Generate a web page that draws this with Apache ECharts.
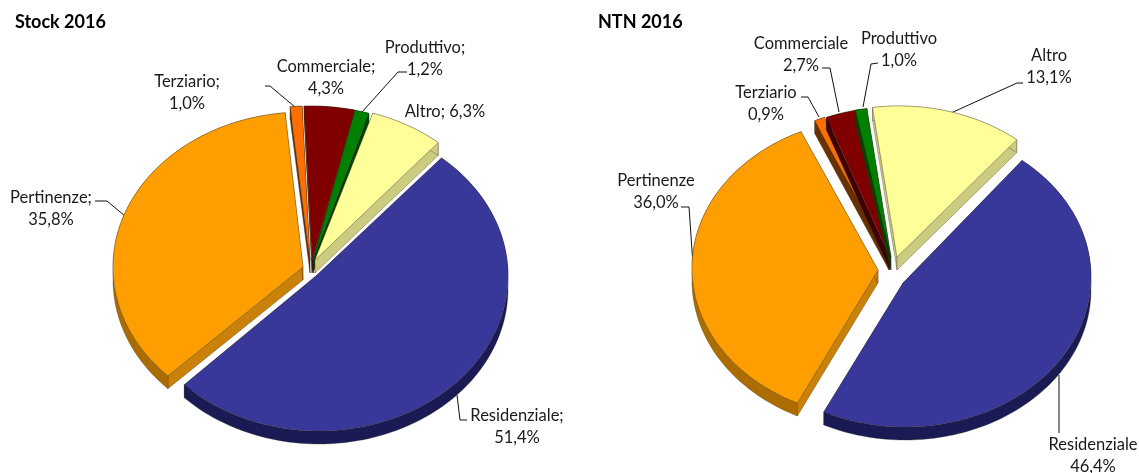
<!DOCTYPE html>
<html>
<head>
<meta charset="utf-8" />
<style>
  html, body { margin: 0; padding: 0; background: #fff; }
  #chart { width: 1139px; height: 473px; }
</style>
</head>
<body>
<div id="chart"></div>
<script src="https://cdn.jsdelivr.net/npm/echarts@6/dist/echarts.min.js"></script>
<script>
// dati
const categories = ["Residenziale", "Pertinenze", "Terziario", "Commerciale", "Produttivo", "Altro"];
const stockValues = [51.4, 35.8, 1.0, 4.3, 1.2, 6.3];
const ntnValues = [46.4, 36.0, 0.9, 2.7, 1.0, 13.1];

// colori: faccia, taglio, bordo esterno
const faceColors = ["#38389A", "#FF9E00", "#FF6F00", "#800000", "#008000", "#FFFF99"];
const cutColors = ["#1B1B5C", "#C98207", "#6B3000", "#3E0000", "#004400", "#CCCC80"];
const wallColors = ["#1A1A55", "#AD6C00", "#6B3000", "#3E0000", "#004400", "#CCCC80"];

const fontFamily = "Lato, 'Open Sans', sans-serif";
const depth = 13;
const step = 1.5;

// geometria di ogni fetta: a = vertice, c = centro ellisse
const stockLayout = {
  firstAngle: 40.4,
  slices: [
    { a: [316, 276], c: [319, 276], rx: 189, ry: 155 },
    { a: [303, 267], c: [304, 267], rx: 191, ry: 155 },
    { a: [310, 260], c: [309, 259], rx: 190, ry: 153 },
    { a: [312, 260], c: [311, 259], rx: 190, ry: 153 },
    { a: [313, 260], c: [311, 259], rx: 190, ry: 153 },
    { a: [315, 260], c: [315, 259], rx: 190, ry: 153 },
  ],
  labels: [
    { x: 517, y: 416, sep: ";", inline: false },
    { x: 51, y: 198, sep: ";", inline: false },
    { x: 187, y: 82, sep: ";", inline: false },
    { x: 326, y: 67, sep: ";", inline: false },
    { x: 425, y: 48, sep: ";", inline: false },
    { x: 445, y: 112, sep: ";", inline: true },
  ],
  leaders: [
    [[457, 395], [460, 420], [467, 420]],
    [[95, 201], [107, 201], [125, 216]],
    [[265, 86], [270, 86], [295, 107]],
    [[407, 72], [398, 72], [362, 112]],
  ],
};
const ntnLayout = {
  firstAngle: 39,
  slices: [
    { a: [903, 283], c: [905, 277], rx: 186, ry: 150 },
    { a: [878, 270], c: [879, 268], rx: 187, ry: 150 },
    { a: [889, 257], c: [892, 257], rx: 185, ry: 150 },
    { a: [890, 257], c: [894, 257], rx: 185, ry: 150 },
    { a: [891, 257], c: [893, 257], rx: 185, ry: 150 },
    { a: [897, 257], c: [899, 257], rx: 187, ry: 151 },
  ],
  labels: [
    { x: 1093, y: 445, sep: "", inline: false },
    { x: 656, y: 181, sep: "", inline: false },
    { x: 766, y: 93, sep: "", inline: false },
    { x: 801, y: 44, sep: "", inline: false },
    { x: 899, y: 39, sep: "", inline: false },
    { x: 1049, y: 56, sep: "", inline: false },
  ],
  leaders: [
    [[1059, 375], [1059, 433]],
    [[681, 207], [689, 207], [693, 265]],
    [[801, 97], [808, 97], [819, 117]],
    [[822, 68], [830, 68], [839, 112]],
    [[878, 63], [871, 64], [863, 107]],
    [[1023, 83], [1017, 83], [951, 113]],
  ],
};

// ordine di disegno (dal fondo al primo piano)
const drawOrder = [2, 3, 4, 5, 1, 0];

function rimPoint(s, deg) {
  const t = (deg * Math.PI) / 180;
  return [s.c[0] + s.rx * Math.sin(t), s.c[1] - s.ry * Math.cos(t)];
}

function down(p) {
  return [p[0], p[1] + depth];
}

function formatValue(v) {
  return v.toFixed(1).replace(".", ",") + "%";
}

function makeSeries(values, layout) {
  const total = values.reduce((a, b) => a + b, 0);
  const starts = [];
  let acc = layout.firstAngle;
  values.forEach((v) => {
    starts.push(acc);
    acc += (v / total) * 360;
  });

  return {
    type: "custom",
    coordinateSystem: "none",
    silent: true,
    animation: false,
    data: values.map((v) => [v]),
    renderItem: function (params, api) {
      const i = params.dataIndex;
      const s = layout.slices[i];
      const from = starts[i];
      const to = from + (api.value(0) / total) * 360;
      const z = drawOrder.indexOf(i) * 4 + 1;

      const rim = [];
      for (let d = from; d < to; d += step) rim.push(rimPoint(s, d));
      rim.push(rimPoint(s, to));

      const edge = { stroke: "rgba(50,40,30,0.45)", lineWidth: 0.7 };
      const poly = (points, fill, zz) => ({
        type: "polygon",
        z2: zz,
        shape: { points: points },
        style: Object.assign({ fill: fill }, edge),
      });

      const first = rim[0];
      const last = rim[rim.length - 1];
      const children = [
        poly([s.a, first, down(first), down(s.a)], cutColors[i], z),
        poly([s.a, last, down(last), down(s.a)], cutColors[i], z),
        poly(rim.concat(rim.map(down).reverse()), wallColors[i], z + 1),
        poly([s.a].concat(rim), faceColors[i], z + 2),
      ];

      const lab = layout.labels[i];
      const name = categories[i] + lab.sep;
      const val = formatValue(api.value(0));
      children.push({
        type: "text",
        z2: 100,
        style: {
          text: lab.inline ? name + " " + val : name + "\n" + val,
          x: lab.x,
          y: lab.y - 11,
          align: "center",
          verticalAlign: "top",
          fill: "#1a1a1a",
          font: "16.5px " + fontFamily,
          lineHeight: 22,
        },
      });
      return { type: "group", children: children };
    },
  };
}

function leaderGraphics(layout) {
  return layout.leaders.map((pts) => ({
    type: "polyline",
    silent: true,
    z: 1,
    shape: { points: pts },
    style: { stroke: "#111", lineWidth: 1, fill: null },
  }));
}

const chart = echarts.init(document.getElementById("chart"), null, { renderer: "canvas" });
chart.setOption({
  backgroundColor: "#fff",
  animation: false,
  title: [
    { text: "Stock 2016", left: 10, top: 8, textStyle: { fontFamily: fontFamily, fontSize: 18, fontWeight: "bold", color: "#000" } },
    { text: "NTN 2016", left: 593, top: 8, textStyle: { fontFamily: fontFamily, fontSize: 18, fontWeight: "bold", color: "#000" } },
  ],
  graphic: leaderGraphics(stockLayout).concat(leaderGraphics(ntnLayout)),
  series: [makeSeries(stockValues, stockLayout), makeSeries(ntnValues, ntnLayout)],
});
</script>
</body>
</html>
